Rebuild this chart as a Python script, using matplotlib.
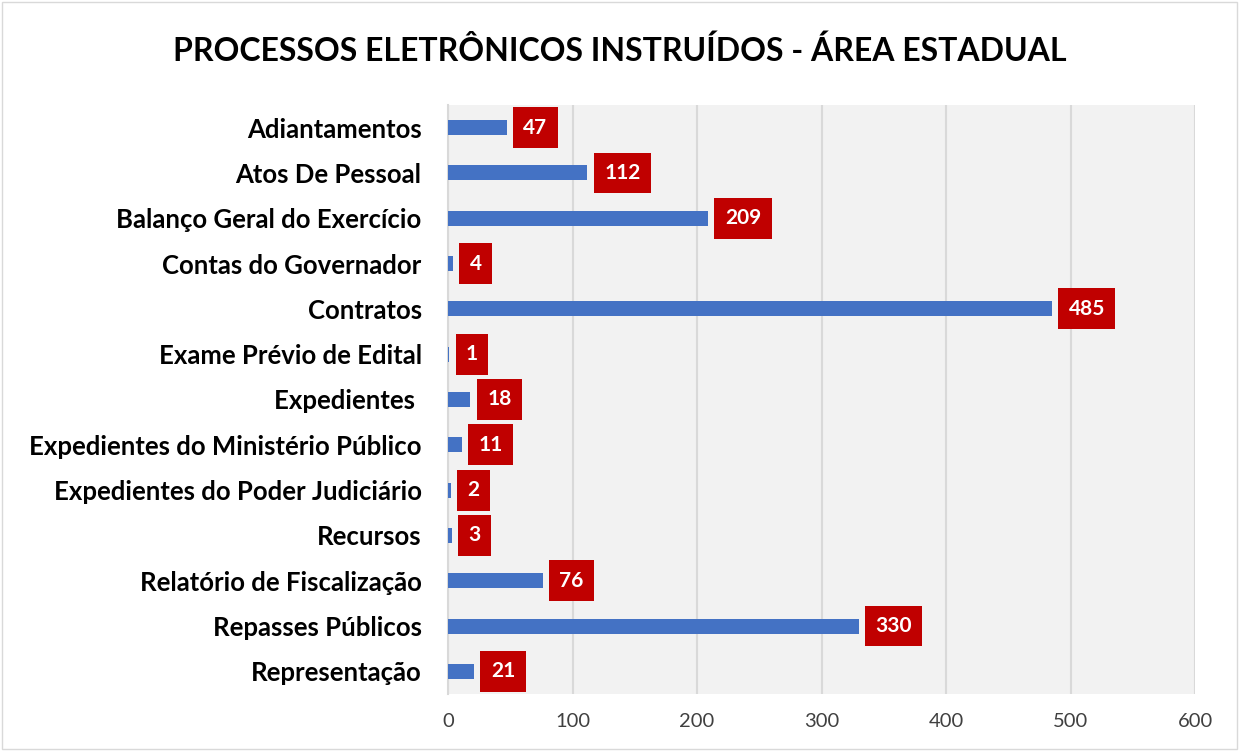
import matplotlib.pyplot as plt
from matplotlib.patches import Rectangle

plt.rcParams['font.family'] = ['Lato', 'DejaVu Sans']

categorias = ['Adiantamentos', 'Atos De Pessoal', 'Balanço Geral do Exercício',
              'Contas do Governador', 'Contratos', 'Exame Prévio de Edital',
              'Expedientes ', 'Expedientes do Ministério Público',
              'Expedientes do Poder Judiciário', 'Recursos',
              'Relatório de Fiscalização', 'Repasses Públicos', 'Representação']
valores = [47, 112, 209, 4, 485, 1, 18, 11, 2, 3, 76, 330, 21]
xticks = [0, 100, 200, 300, 400, 500, 600]

fig = plt.figure(figsize=(12.39, 7.51), dpi=100)
ax = fig.add_axes([0.3616, 0.0759, 0.6029, 0.7843])
ax.set_facecolor('#F2F2F2')

pos = list(range(len(categorias)))
ax.barh(pos, valores, height=0.33, color='#4472C4', zorder=3)

# red value boxes
for p, v in zip(pos, valores):
    ax.annotate(str(v), xy=(v, p), xytext=(12, 0), textcoords='offset points',
                ha='left', va='center', color='white', fontsize=15, fontweight='bold',
                bbox=dict(boxstyle='square,pad=0.5', fc='#C00000', ec='none'), zorder=4)

ax.set_ylim(len(categorias) - 0.5, -0.5)
ax.set_xlim(0, 600)
ax.set_xticks(xticks)
ax.set_yticks(pos)
ax.set_yticklabels(categorias, fontsize=18.5, fontweight='bold', color='black')
ax.tick_params(axis='x', labelsize=14.5, labelcolor='#404040', length=0, pad=14)
ax.tick_params(axis='y', length=0, pad=19)
ax.grid(axis='x', color='#D9D9D9', linewidth=1.5, zorder=0)
for s in ['top', 'right', 'bottom']:
    ax.spines[s].set_visible(False)
ax.spines['left'].set_color('#D9D9D9')
ax.spines['left'].set_linewidth(1.5)

fig.text(0.5, 0.932, 'PROCESSOS ELETRÔNICOS INSTRUÍDOS - ÁREA ESTADUAL',
         ha='center', va='center', fontsize=23, fontweight='bold')

fig.patches.append(Rectangle((0.0015, 0.002), 0.997, 0.996, transform=fig.transFigure,
                             fill=False, ec='#D9D9D9', lw=1))

fig.savefig('out.png', dpi=100)
